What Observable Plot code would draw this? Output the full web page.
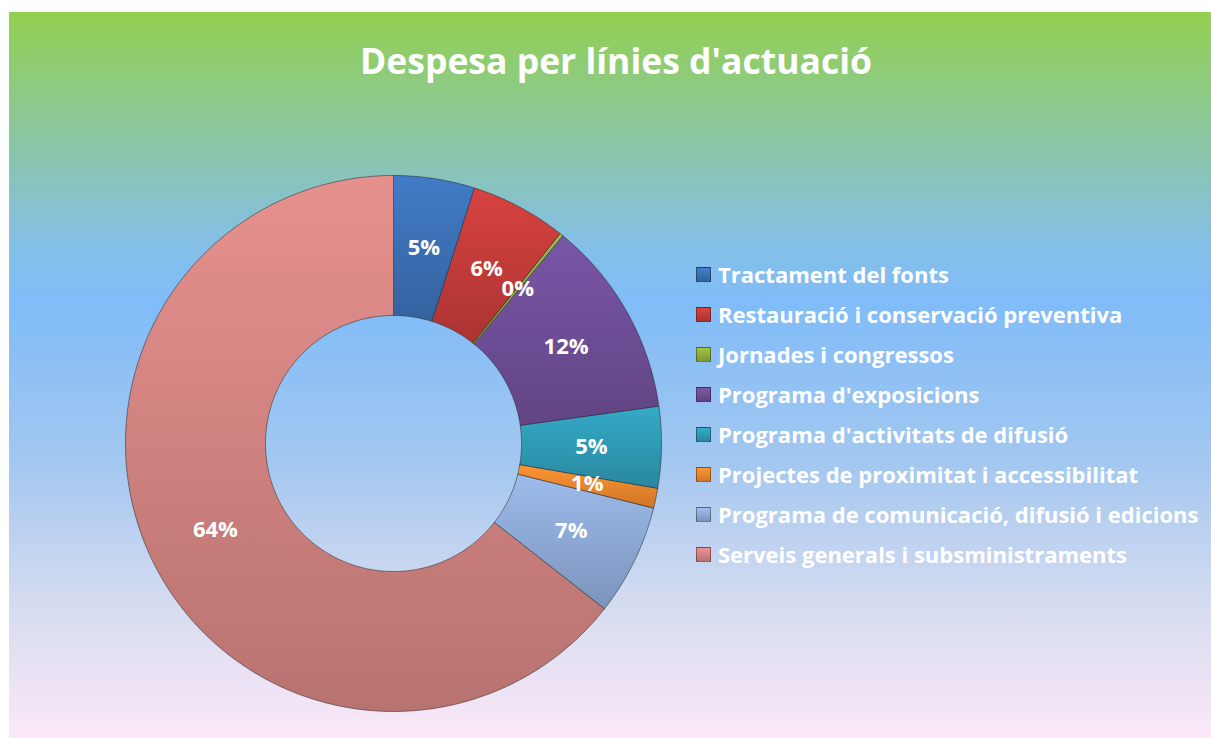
<!DOCTYPE html>
<html>
<head>
<meta charset="utf-8">
<script src="https://cdn.jsdelivr.net/npm/d3@7"></script>
<script src="https://cdn.jsdelivr.net/npm/@observablehq/plot@0.6"></script>
<style>
  html, body { margin: 0; padding: 0; background: #fff; }
  #wrap { position: relative; width: 1211px; height: 738px; overflow: hidden; background: #fff; }
  #panel {
    position: absolute; left: 9px; top: 12px; width: 1202px; height: 726px;
    background: linear-gradient(to bottom, #92D050 0%, #8CC79C 16%, #84BFE6 32%, #80BCF8 40%, #A3C7F0 62%, #D6DCF0 82%, #FCE8F8 100%);
  }
  #title {
    position: absolute; left: 0; width: 1232px; top: 36px; text-align: center;
    font-family: "Open Sans", sans-serif; font-weight: 700; font-size: 35.5px; color: #fff;
  }
  #chart { position: absolute; left: 0; top: 0; }
  #legend {
    position: absolute; left: 687px; top: 242px;
    font-family: "Open Sans", sans-serif; font-weight: 700; font-size: 22px; color: #fff;
  }
  .row { display: flex; align-items: center; height: 40px; white-space: nowrap; }
  .sw { width: 15px; height: 15px; margin-right: 7px; box-sizing: border-box; border: 1px solid rgba(0,0,0,0.35); }
</style>
</head>
<body>
<div id="wrap">
  <div id="panel">
    <div id="chart"></div>
    <div id="legend"></div>
  </div>
  <div id="title"></div>
</div>
<script>
const title = "Despesa per línies d'actuació";
const categories = [
  "Tractament del fonts",
  "Restauració i conservació preventiva",
  "Jornades i congressos",
  "Programa d'exposicions",
  "Programa d'activitats de difusió",
  "Projectes de proximitat i accessibilitat",
  "Programa de comunicació, difusió i edicions",
  "Serveis generals i subsministraments"
];
const values = [4.9, 5.8, 0.2, 11.9, 4.9, 1.2, 6.7, 64.4];
const colors = ["#3A6DB0", "#BE3A38", "#8CAA3C", "#6C4C93", "#2E96B0", "#E3832C", "#8AA5D0", "#CC807D"];

document.getElementById("title").textContent = title;

const innerFrac = 128 / 268;
const total = d3.sum(values);
const pie = d3.pie().sort(null).value(d => d.value).startAngle(0).endAngle(2 * Math.PI);
const slices = pie(categories.map((c, i) => ({category: c, value: values[i], color: colors[i], grad: `url(#sliceGrad${i})`})));

const pts = [];
for (const s of slices) {
  const n = Math.max(2, Math.ceil((s.endAngle - s.startAngle) / (Math.PI / 360)));
  for (let k = 0; k <= n; k++) {
    const a = s.startAngle + (s.endAngle - s.startAngle) * k / n;
    pts.push({key: s.data.category, fill: s.data.grad, x: Math.sin(a), y: Math.cos(a)});
  }
  for (let k = n; k >= 0; k--) {
    const a = s.startAngle + (s.endAngle - s.startAngle) * k / n;
    pts.push({key: s.data.category, fill: s.data.grad, x: innerFrac * Math.sin(a), y: innerFrac * Math.cos(a)});
  }
}
const labels = slices.map(s => {
  const a = (s.startAngle + s.endAngle) / 2;
  const r = (1 + innerFrac) / 2;
  return {x: r * Math.sin(a), y: r * Math.cos(a), text: d3.format(".0%")(s.data.value / total)};
});

const cx = 384, cy = 431, R = 268;
const plot = Plot.plot({
  width: 1202, height: 726,
  margin: 0,
  style: {background: "transparent", overflow: "visible"},
  x: {domain: [-1, 1], range: [cx - R, cx + R], axis: null},
  y: {domain: [-1, 1], range: [cy + R, cy - R], axis: null},
  color: {type: "identity"},
  marks: [
    Plot.line(pts, {x: "x", y: "y", z: "key", fill: "fill", stroke: "#2a2a2a", strokeOpacity: 0.55, strokeWidth: 1, curve: "linear-closed"}),
    Plot.text(labels, {x: "x", y: "y", text: "text", fill: "white", fontSize: 22, fontWeight: "bold", fontFamily: "Open Sans, sans-serif"})
  ]
});
const defs = d3.select(plot).insert("defs", ":first-child");
colors.forEach((c, i) => {
  const g = defs.append("linearGradient").attr("id", `sliceGrad${i}`)
    .attr("x1", 0).attr("y1", 0).attr("x2", 0).attr("y2", 1);
  g.append("stop").attr("offset", "0%").attr("stop-color", d3.color(c).brighter(0.35));
  g.append("stop").attr("offset", "100%").attr("stop-color", d3.color(c).darker(0.3));
});
document.getElementById("chart").appendChild(plot);

const legend = document.getElementById("legend");
categories.forEach((c, i) => {
  const row = document.createElement("div");
  row.className = "row";
  const sw = document.createElement("div");
  sw.className = "sw";
  sw.style.background = `linear-gradient(to bottom, ${d3.color(colors[i]).brighter(0.4)}, ${d3.color(colors[i]).darker(0.3)})`;
  const t = document.createElement("span");
  t.textContent = c;
  row.appendChild(sw); row.appendChild(t);
  legend.appendChild(row);
});
</script>
</body>
</html>
